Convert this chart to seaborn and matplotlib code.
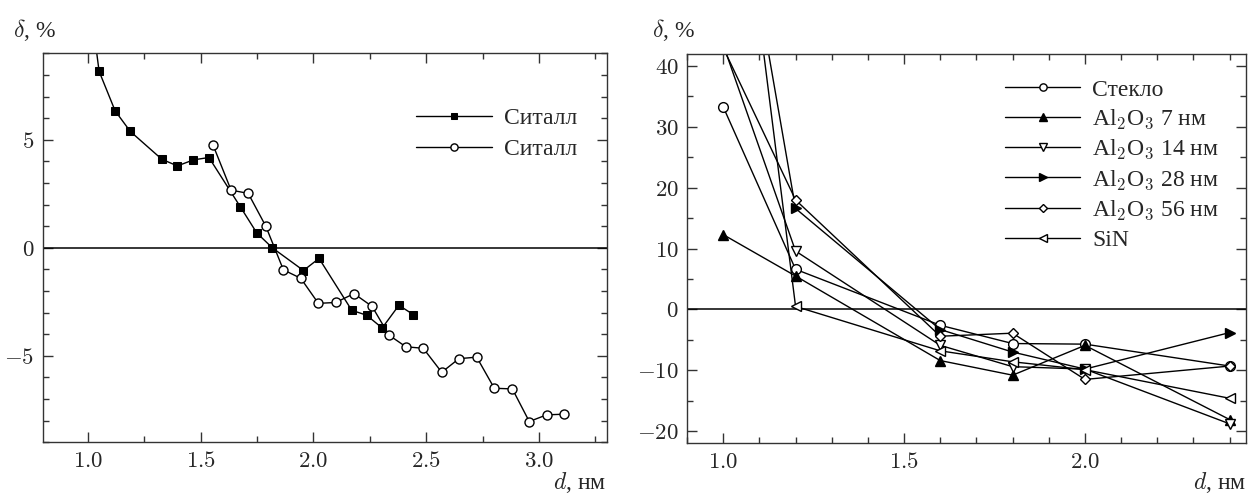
import matplotlib
matplotlib.use('Agg')
import matplotlib.pyplot as plt
from matplotlib.ticker import MultipleLocator, FuncFormatter
import seaborn as sns

# левая панель: ситалл
sit1_d = [1.00, 1.050, 1.121, 1.188, 1.328, 1.397, 1.468, 1.537, 1.676, 1.749, 1.818,
          1.956, 2.025, 2.170, 2.236, 2.305, 2.379, 2.443]
sit1_v = [12.2, 8.17, 6.34, 5.39, 4.10, 3.79, 4.07, 4.18, 1.90, 0.69, 0.00,
          -1.05, -0.49, -2.89, -3.12, -3.71, -2.66, -3.09]
sit2_d = [1.555, 1.635, 1.711, 1.789, 1.867, 1.944, 2.022, 2.099, 2.180, 2.260, 2.335,
          2.410, 2.487, 2.569, 2.645, 2.724, 2.802, 2.882, 2.957, 3.034, 3.112]
sit2_v = [4.76, 2.67, 2.52, 1.00, -1.02, -1.41, -2.57, -2.53, -2.12, -2.71, -4.04,
          -4.58, -4.65, -5.76, -5.13, -5.06, -6.50, -6.53, -8.04, -7.73, -7.70]

# правая панель
d_right = [1.0, 1.2, 1.6, 1.8, 2.0, 2.4]
steklo = [33.3, 6.6, -2.6, -5.6, -5.7, -9.3]
al7 = [12.3, 5.5, -8.4, -10.8, -5.9, -18.1]
al14 = [43.5, 9.6, -5.9, -9.4, -9.8, -18.8]
al28 = [85.0, 16.6, -3.3, -7.0, -9.8, -3.8]
al56 = [43.0, 18.0, -4.4, -3.9, -11.5, -9.3]
sin = [95.0, 0.5, -6.8, -8.6, -9.9, -14.6]

sns.set_style('ticks')
plt.rcParams['font.family'] = ['Liberation Serif', 'DejaVu Serif']
plt.rcParams['mathtext.fontset'] = 'cm'
plt.rcParams['axes.linewidth'] = 1.0

fig = plt.figure(figsize=(12.56, 4.95), dpi=100)
ax1 = fig.add_axes([0.034, 0.1065, 0.449, 0.7857])
ax2 = fig.add_axes([0.547, 0.1044, 0.445, 0.7867])

mfmt = FuncFormatter(lambda v, p: '$%g$' % v if abs(v) > 1e-9 else '$0$')
xfmt = FuncFormatter(lambda v, p: '$%.1f$' % v)


def style(ax):
    ax.tick_params(which='both', direction='in', top=True, right=True,
                   labelsize=16.5, color='#333333')
    ax.tick_params(which='major', length=7, width=1, pad=6)
    ax.tick_params(which='minor', length=4, width=1)
    ax.axhline(0, color='black', lw=1.1, zorder=1)
    ax.set_xlabel('')
    ax.set_ylabel('')
    ax.yaxis.set_major_formatter(mfmt)
    ax.xaxis.set_major_formatter(xfmt)
    for s in ax.spines.values():
        s.set_color('#333333')


kw = dict(color='black', lw=1.0, estimator=None)

sns.lineplot(x=sit1_d, y=sit1_v, marker='s', markerfacecolor='black',
             markeredgecolor='black', markersize=5.5, label='Ситалл', ax=ax1, **kw)
sns.lineplot(x=sit2_d, y=sit2_v, marker='o', markerfacecolor='white',
             markeredgecolor='black', markeredgewidth=1.0, markersize=6.5,
             label='Ситалл', ax=ax1, **kw)
ax1.set_xlim(0.8, 3.3)
ax1.set_ylim(-9, 9)
ax1.xaxis.set_major_locator(MultipleLocator(0.5))
ax1.xaxis.set_minor_locator(MultipleLocator(0.25))
ax1.yaxis.set_major_locator(MultipleLocator(5))
ax1.yaxis.set_minor_locator(MultipleLocator(1))
style(ax1)
ax1.legend(loc='upper right', bbox_to_anchor=(0.985, 0.915), frameon=False,
           fontsize=17, handlelength=3.2, markerscale=0.8, labelspacing=0.4,
           handletextpad=0.5)

series = [
    (steklo, 'o', 'white', 'Стекло'),
    (al7, '^', 'black', r'Al$_2$O$_3$ 7 нм'),
    (al14, 'v', 'white', r'Al$_2$O$_3$ 14 нм'),
    (al28, '>', 'black', r'Al$_2$O$_3$ 28 нм'),
    (al56, 'D', 'white', r'Al$_2$O$_3$ 56 нм'),
    (sin, '<', 'white', 'SiN'),
]
for vals, m, fc, lab in series:
    ms = 5.5 if m == 'D' else 7
    sns.lineplot(x=d_right, y=vals, marker=m, markerfacecolor=fc,
                 markeredgecolor='black', markeredgewidth=1.0, markersize=ms,
                 label=lab, ax=ax2, **kw)
ax2.set_xlim(0.9, 2.445)
ax2.set_ylim(-22, 42)
ax2.xaxis.set_major_locator(MultipleLocator(0.5))
ax2.xaxis.set_minor_locator(MultipleLocator(0.1))
ax2.yaxis.set_major_locator(MultipleLocator(10))
ax2.yaxis.set_minor_locator(MultipleLocator(5))
style(ax2)
ax2.legend(loc='upper right', bbox_to_anchor=(0.99, 0.99), frameon=False,
           fontsize=17, handlelength=3.2, markerscale=0.75, labelspacing=0.3,
           handletextpad=0.5)

fig.text(0.010, 0.94, r'$\delta$, %', fontsize=17, ha='left', va='center')
fig.text(0.519, 0.94, r'$\delta$, %', fontsize=17, ha='left', va='center')
fig.text(0.483, 0.025, r'$d$, нм', fontsize=17, ha='right', va='center')
fig.text(0.992, 0.025, r'$d$, нм', fontsize=17, ha='right', va='center')

fig.savefig('out.png', dpi=100)
